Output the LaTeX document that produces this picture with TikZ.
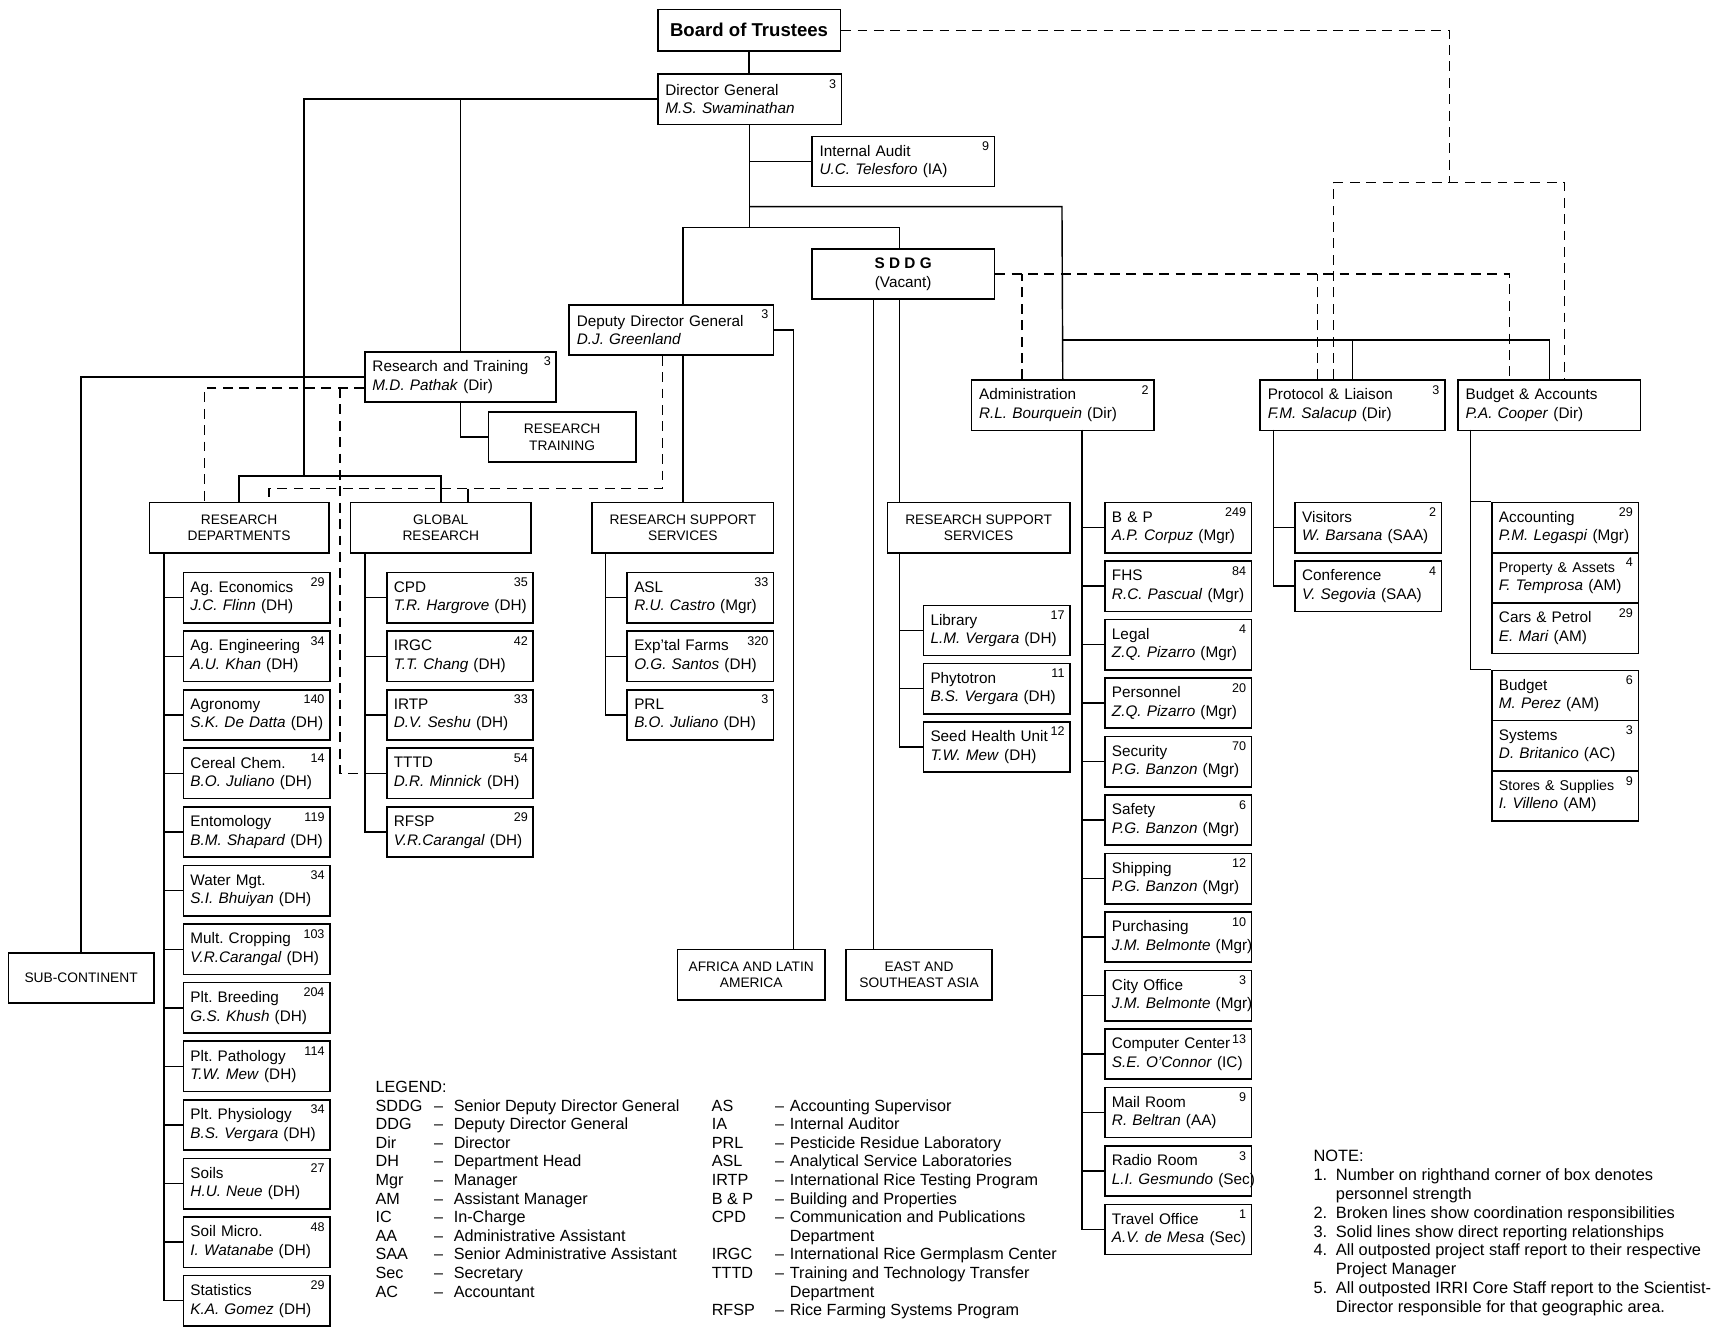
\documentclass[tikz,border=0pt]{standalone}
\usepackage{fontspec}
\setmainfont{Liberation Sans}
\frenchspacing

\newcommand{\staffont}{\fontsize{14}{17}\selectfont}
\newcommand{\tightfont}{\fontsize{13}{17}\selectfont}
\newcommand{\capsfont}{\fontsize{12.6}{15.4}\selectfont}
\newcommand{\numfont}{\fontsize{11.5}{11.5}\selectfont}
\newcommand{\legendfont}{\fontsize{14.8}{17}\selectfont}
\newcommand{\notefont}{\fontsize{15}{17.25}\selectfont}
\newcommand{\who}[2]{\mbox{\textit{#1} (#2)}}

\begin{document}
\begin{tikzpicture}[
	x=1pt, y=-1pt,
	line width=1.3pt,
	num/.style={anchor=north east, inner xsep=5pt, inner ysep=5pt, font=\numfont},
	staffbox/.style={draw, rectangle, line width=1.5pt, anchor=north west, minimum height=46pt, text width=121pt, inner xsep=6.5pt, inner ysep=0pt, align=left, font=\staffont, label={[num]north east:#1}},
	chief/.style 2 args={draw, rectangle, line width=1.5pt, anchor=north west, minimum height=46pt, text width=#1, inner xsep=7pt, inner ysep=0pt, align=left, font=\staffont, label={[num]north east:#2}},
	headbox/.style={draw, rectangle, line width=1.5pt, anchor=north west, minimum width=#1, minimum height=46pt, inner sep=0pt, align=center, font=\capsfont},
	liaison/.style={line width=1.3pt, dash pattern=on 9pt off 6pt},
]
\useasboundingbox (0,0) rectangle (1568,1219);

\node[draw, line width=1.5pt, anchor=north west, minimum width=167pt, minimum height=38pt, inner sep=0pt, font=\fontsize{17}{19}\selectfont\bfseries] (board) at (601,8) {Board of Trustees};
\node[chief={154pt}{3}] (dg) at (601,67) {Director General\\\textit{M.S. Swaminathan}};
\node[chief={153pt}{9}] (audit) at (742,124) {Internal Audit\\\who{U.C. Telesforo}{IA}};
\node[draw, line width=1.5pt, anchor=north west, minimum width=167pt, minimum height=46pt, inner sep=0pt, align=center, font=\staffont] (sddg) at (742,227) {\textbf{S D D G}\\(Vacant)};
\node[chief={173pt}{3}] (ddg) at (520,278) {Deputy Director General\\\textit{D.J. Greenland}};
\node[chief={161pt}{3}] (rt) at (333,321) {Research and Training\\\who{M.D. Pathak}{Dir}};
\node[headbox=135pt] (rtrain) at (446,376) {RESEARCH\\TRAINING};
\node[chief={153pt}{2}] (admin) at (888,347) {Administration\\\who{R.L. Bourquein}{Dir}};
\node[chief={155pt}{3}] (protocol) at (1152,347) {Protocol \& Liaison\\\who{F.M. Salacup}{Dir}};
\node[chief={153pt}{}] (budget) at (1333,347) {Budget \& Accounts\\\who{P.A. Cooper}{Dir}};

\node[headbox=164pt] (resdep) at (136,459) {RESEARCH\\DEPARTMENTS};
\node[headbox=165pt] (global) at (320,459) {GLOBAL\\RESEARCH};
\node[headbox=166pt] (support) at (541,459) {RESEARCH SUPPORT\\SERVICES};
\node[headbox=167pt] (support2) at (811,459) {RESEARCH SUPPORT\\SERVICES};
\node[headbox=133pt] (subcont) at (7,871) {SUB-CONTINENT};
\node[headbox=135pt] (africa) at (619,868) {AFRICA AND LATIN\\AMERICA};
\node[headbox=134pt] (asia) at (773,868) {EAST AND\\SOUTHEAST ASIA};

\node[staffbox=29] (agecon) at (167,523) {Ag. Economics\\\who{J.C. Flinn}{DH}};
\node[staffbox=34] (ageng) at (167,576.6) {Ag. Engineering\\\who{A.U. Khan}{DH}};
\node[staffbox=140] (agron) at (167,630.2) {Agronomy\\\who{S.K. De Datta}{DH}};
\node[staffbox=14] (cereal) at (167,683.8) {Cereal Chem.\\\who{B.O. Juliano}{DH}};
\node[staffbox=119] (ento) at (167,737.4) {Entomology\\\who{B.M. Shapard}{DH}};
\node[staffbox=34] (water) at (167,791) {Water Mgt.\\\who{S.I. Bhuiyan}{DH}};
\node[staffbox=103] (multcrop) at (167,844.6) {Mult. Cropping\\\who{V.R.Carangal}{DH}};
\node[staffbox=204] (breed) at (167,898.2) {Plt. Breeding\\\who{G.S. Khush}{DH}};
\node[staffbox=114] (patho) at (167,951.8) {Plt. Pathology\\\who{T.W. Mew}{DH}};
\node[staffbox=34] (physio) at (167,1005.4) {Plt. Physiology\\\who{B.S. Vergara}{DH}};
\node[staffbox=27] (soils) at (167,1059) {Soils\\\who{H.U. Neue}{DH}};
\node[staffbox=48] (soilmicro) at (167,1112.6) {Soil Micro.\\\who{I. Watanabe}{DH}};
\node[staffbox=29] (stats) at (167,1166.2) {Statistics\\\who{K.A. Gomez}{DH}};

\node[staffbox=35] (cpd) at (353,523) {CPD\\\who{T.R. Hargrove}{DH}};
\node[staffbox=42] (irgc) at (353,576.6) {IRGC\\\who{T.T. Chang}{DH}};
\node[staffbox=33] (irtp) at (353,630.2) {IRTP\\\who{D.V. Seshu}{DH}};
\node[staffbox=54] (tttd) at (353,683.8) {TTTD\\\who{D.R. Minnick}{DH}};
\node[staffbox=29] (rfsp) at (353,737.4) {RFSP\\\who{V.R.Carangal}{DH}};

\node[staffbox=33] (asl) at (573,523) {ASL\\\who{R.U. Castro}{Mgr}};
\node[staffbox=320] (farms) at (573,576.6) {Exp'tal Farms\\\who{O.G. Santos}{DH}};
\node[staffbox=3] (prl) at (573,630.2) {PRL\\\who{B.O. Juliano}{DH}};

\node[staffbox=17] (library) at (844,553) {Library\\\who{L.M. Vergara}{DH}};
\node[staffbox=11] (phyto) at (844,606.3) {Phytotron\\\who{B.S. Vergara}{DH}};
\node[staffbox=12] (seed) at (844,659.6) {Seed Health Unit\\\who{T.W. Mew}{DH}};

\node[staffbox=249] (bp) at (1010,459) {B \& P\\\who{A.P. Corpuz}{Mgr}};
\node[staffbox=84] (fhs) at (1010,512.5) {FHS\\\who{R.C. Pascual}{Mgr}};
\node[staffbox=4] (legal) at (1010,566) {Legal\\\who{Z.Q. Pizarro}{Mgr}};
\node[staffbox=20] (personnel) at (1010,619.5) {Personnel\\\who{Z.Q. Pizarro}{Mgr}};
\node[staffbox=70] (security) at (1010,673) {Security\\\who{P.G. Banzon}{Mgr}};
\node[staffbox=6] (safety) at (1010,726.5) {Safety\\\who{P.G. Banzon}{Mgr}};
\node[staffbox=12] (shipping) at (1010,780) {Shipping\\\who{P.G. Banzon}{Mgr}};
\node[staffbox=10] (purchasing) at (1010,833.5) {Purchasing\\\who{J.M. Belmonte}{Mgr}};
\node[staffbox=3] (cityoffice) at (1010,887) {City Office\\\who{J.M. Belmonte}{Mgr}};
\node[staffbox=13] (computer) at (1010,940.5) {Computer Center\\\who{S.E. O'Connor}{IC}};
\node[staffbox=9] (mail) at (1010,994) {Mail Room\\\who{R. Beltran}{AA}};
\node[staffbox=3] (radio) at (1010,1047.5) {Radio Room\\\who{L.I. Gesmundo}{Sec}};
\node[staffbox=1] (travel) at (1010,1101) {Travel Office\\\who{A.V. de Mesa}{Sec}};

\node[staffbox=2] (visitors) at (1184,459) {Visitors\\\who{W. Barsana}{SAA}};
\node[staffbox=4] (conference) at (1184,512.5) {Conference\\\who{V. Segovia}{SAA}};

\node[staffbox=29] (acct) at (1364,459) {Accounting\\\who{P.M. Legaspi}{Mgr}};
\node[staffbox=4] (property) at (1364,505) {{\tightfont Property \& Assets}\\\who{F. Temprosa}{AM}};
\node[staffbox=29] (cars) at (1364,551) {Cars \& Petrol\\\who{E. Mari}{AM}};
\node[staffbox=6] (budg) at (1364,612.5) {Budget\\\who{M. Perez}{AM}};
\node[staffbox=3] (systems) at (1364,658.5) {Systems\\\who{D. Britanico}{AC}};
\node[staffbox=9] (stores) at (1364,704.5) {{\tightfont Stores \& Supplies}\\\who{I. Villeno}{AM}};

\coordinate (rdfork) at (278,435.5);
\coordinate (ddgfork) at (625,208);
\coordinate (sddgfork) at (823,208);
\coordinate (adminfork) at (971.5,189);
\coordinate (staffbar) at (971.5,311);
\coordinate (africafork) at (726,868);
\coordinate (asiafork) at (799,868);
\coordinate (rdbus) at (150,505);
\coordinate (grbus) at (334,505);
\coordinate (rssbus) at (554,505);
\coordinate (rssbus2) at (823,505);
\coordinate (admbus) at (990,393);
\coordinate (plbus) at (1165,393);
\coordinate (babus) at (1345,393);
\coordinate (boardlink) at (1326,167);
\coordinate (pltrust) at (1220,347);
\coordinate (batrust) at (1431,347);
\coordinate (sddglink) at (1381,347);
\coordinate (admdash) at (935,347);
\coordinate (pldash) at (1205,347);
\coordinate (rtlink) at (333,355);
\coordinate (tttdlink) at (311,355);
\coordinate (rdlink) at (187,459);
\coordinate (ddglink) at (606,447);
\coordinate (rdlink2) at (246,459);
\coordinate (grtick) at (428,447);

\draw (board.south) -- (board.south |- dg.north);
\draw (dg.west) -| (rdfork);
\draw (resdep.north) |- (rdfork) -| (global.north);
\draw (rt.north) -- (rt.north |- dg.west);
\draw (rt.west) -| (subcont.north);
\draw (rt.south) |- (rtrain.west);
\draw (dg.south) |- (audit.west);
\draw (dg.south) -- (dg.south |- ddgfork);
\draw (ddg.north -| ddgfork) -- (ddgfork) -- (sddgfork) -- (sddg.north -| sddgfork);
\draw (dg.south |- adminfork) -- (adminfork) -- (admin.north);
\draw (staffbar) -| (protocol.north);
\draw (staffbar) -| (budget.north);
\draw (ddg.south -| support.north) -- (support.north);
\draw (ddg.east) -| (africafork);
\draw (sddg.south -| sddgfork) -- (support2.north -| sddgfork);
\draw (sddg.south -| asiafork) -- (asiafork);

\draw (rdbus) |- (agecon.west) (rdbus) |- (ageng.west) (rdbus) |- (agron.west)
	(rdbus) |- (cereal.west) (rdbus) |- (ento.west) (rdbus) |- (water.west)
	(rdbus) |- (multcrop.west) (rdbus) |- (breed.west) (rdbus) |- (patho.west)
	(rdbus) |- (physio.west) (rdbus) |- (soils.west) (rdbus) |- (soilmicro.west)
	(rdbus) |- (stats.west);
\draw (grbus) |- (cpd.west) (grbus) |- (irgc.west) (grbus) |- (irtp.west)
	(grbus) |- (tttd.west) (grbus) |- (rfsp.west);
\draw (rssbus) |- (asl.west) (rssbus) |- (farms.west) (rssbus) |- (prl.west);
\draw (rssbus2) |- (library.west) (rssbus2) |- (phyto.west) (rssbus2) |- (seed.west);
\draw (admbus) |- (bp.west) (admbus) |- (fhs.west) (admbus) |- (legal.west)
	(admbus) |- (personnel.west) (admbus) |- (security.west) (admbus) |- (safety.west)
	(admbus) |- (shipping.west) (admbus) |- (purchasing.west) (admbus) |- (cityoffice.west)
	(admbus) |- (computer.west) (admbus) |- (mail.west) (admbus) |- (radio.west)
	(admbus) |- (travel.west);
\draw (plbus) |- (visitors.west) (plbus) |- (conference.west);
\draw (babus) |- (acct.north west) (babus) |- (budg.north west);

\draw[liaison] (board.east) -| (boardlink);
\draw[liaison] (pltrust) |- (boardlink) -| (batrust);
\draw[liaison] (sddg.east) -| (sddglink);
\draw[liaison] (admdash) -- (admdash |- sddg.east);
\draw[liaison] (pldash) -- (pldash |- sddg.east);
\draw[liaison] (rtlink) -| (rdlink);
\draw[liaison] (tttdlink) |- (tttd.west);
\draw[liaison] (ddg.south -| ddglink) -- (ddglink) -| (rdlink2);
\draw (grtick) -- (grtick |- global.north);

\node[anchor=north west, inner sep=0pt, font=\legendfont] (legend) at (343,987) {%
\begin{tabular}{@{}p{53.6pt}@{}p{17.9pt}@{}p{236pt}@{}p{58pt}@{}p{13.4pt}@{}l@{}}
\multicolumn{3}{@{}l}{LEGEND:}\\
SDDG & -- & Senior Deputy Director General & AS & -- & Accounting Supervisor\\
DDG & -- & Deputy Director General & IA & -- & Internal Auditor\\
Dir & -- & Director & PRL & -- & Pesticide Residue Laboratory\\
DH & -- & Department Head & ASL & -- & Analytical Service Laboratories\\
Mgr & -- & Manager & IRTP & -- & International Rice Testing Program\\
AM & -- & Assistant Manager & B \& P & -- & Building and Properties\\
IC & -- & In-Charge & CPD & -- & Communication and Publications\\
AA & -- & Administrative Assistant & & & Department\\
SAA & -- & Senior Administrative Assistant & IRGC & -- & International Rice Germplasm Center\\
Sec & -- & Secretary & TTTD & -- & Training and Technology Transfer\\
AC & -- & Accountant & & & Department\\
 & & & RFSP & -- & Rice Farming Systems Program
\end{tabular}};

\node[anchor=north west, inner sep=0pt, font=\notefont] (note) at (1201,1050) {%
\begin{tabular}{@{}p{20.5pt}@{}l@{}}
\multicolumn{2}{@{}l}{NOTE:}\\
1. & Number on righthand corner of box denotes\\
 & personnel strength\\
2. & Broken lines show coordination responsibilities\\
3. & Solid lines show direct reporting relationships\\
4. & All outposted project staff report to their respective\\
 & Project Manager\\
5. & All outposted IRRI Core Staff report to the Scientist-\\
 & Director responsible for that geographic area.
\end{tabular}};
\end{tikzpicture}
\end{document}
